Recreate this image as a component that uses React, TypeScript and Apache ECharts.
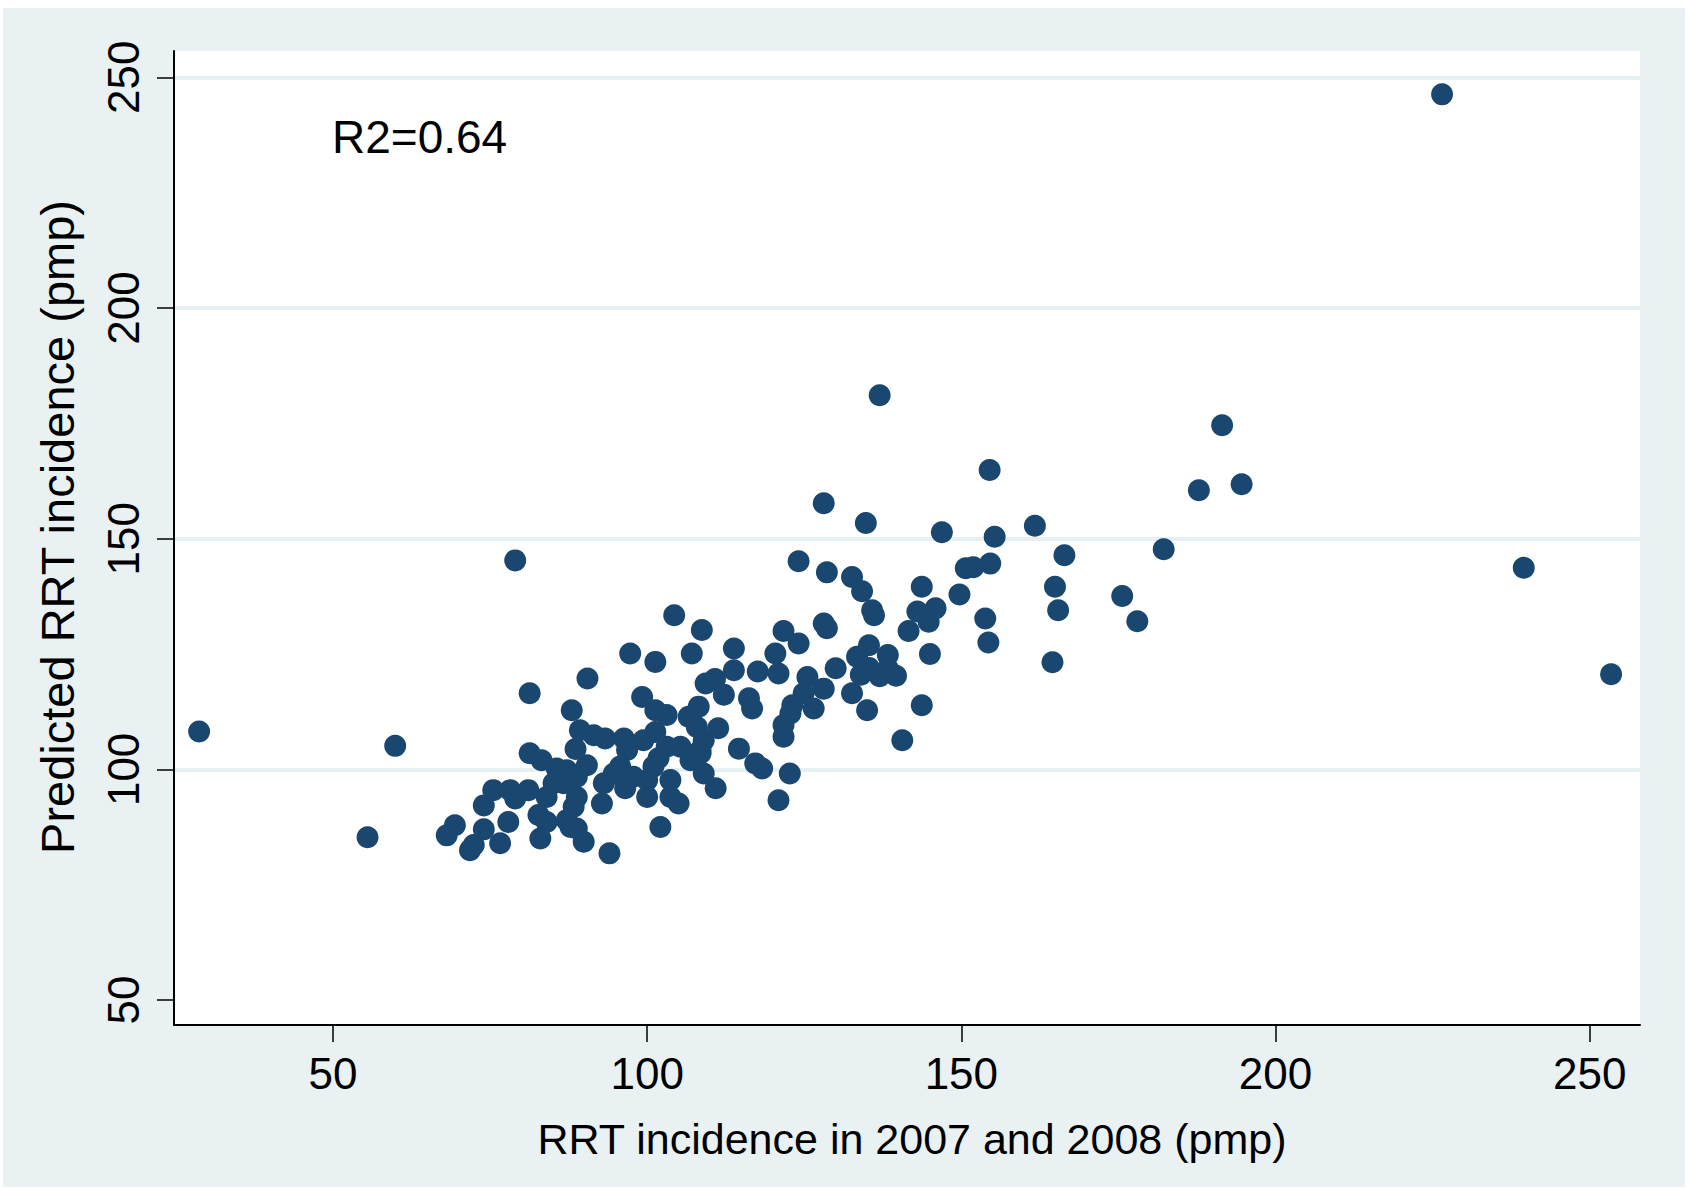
import React, { useEffect, useRef } from "react";
import * as echarts from "echarts";

const FONT = "'Liberation Sans', Arial, Helvetica, sans-serif";

// RRT incidence in 2007 and 2008 (pmp) — x values
const observedIncidence = [
  28.7, 59.9, 55.5, 79.0, 226.5, 239.5, 253.4, 137.0, 191.5, 187.8,
  194.6, 182.2, 175.6, 178.0, 154.5, 161.7, 146.9, 155.3, 166.4, 154.6,
  150.7, 151.9, 143.7, 164.9, 149.7, 145.9, 144.8, 165.4, 153.8, 154.3,
  145.0, 164.5, 143.7, 128.1, 134.8, 124.1, 128.6, 132.6, 134.2, 135.8,
  136.1, 143.0, 141.6, 128.1, 128.6, 121.7, 124.1, 135.3, 133.4, 138.3,
  130.0, 125.5, 117.6, 120.9, 134.0, 135.3, 137.0, 138.3, 139.6, 128.1,
  124.9, 123.1, 122.8, 121.7, 121.7, 126.5, 132.6, 135.0, 140.6, 118.3,
  122.7, 120.9, 104.3, 108.7, 97.3, 101.3, 107.1, 113.8, 113.8, 110.8,
  109.3, 120.4, 112.2, 116.2, 116.7, 99.2, 101.3, 103.1, 106.6, 108.2,
  107.9, 111.3, 109.0, 108.5, 114.6, 117.2, 93.3, 96.3, 99.4, 101.3,
  96.8, 103.1, 105.3, 106.9, 108.5, 101.8, 101.0, 95.7, 94.7, 97.8,
  96.5, 103.7, 100.0, 100.0, 93.1, 92.8, 103.7, 105.0, 109.0, 110.9,
  102.1, 94.0, 90.5, 81.3, 88.0, 89.3, 91.5, 88.6, 81.3, 83.2,
  90.4, 85.6, 87.2, 88.8, 85.1, 86.7, 84.0, 88.8, 88.3, 75.5,
  78.2, 81.1, 74.0, 79.0, 82.7, 84.0, 87.2, 87.8, 88.8, 69.4,
  68.1, 74.0, 77.9, 71.8, 72.4, 76.6, 83.0, 89.9,
];

// Predicted RRT incidence (pmp) — y values
const predictedIncidence = [
  108.2, 105.1, 85.3, 145.3, 246.3, 143.7, 120.6, 181.1, 174.6, 160.5,
  161.8, 147.7, 137.6, 132.1, 164.9, 152.8, 151.4, 150.4, 146.4, 144.6,
  143.6, 143.8, 139.6, 139.6, 137.9, 134.9, 132.0, 134.5, 132.7, 127.5,
  125.0, 123.2, 113.9, 157.7, 153.4, 145.1, 142.7, 141.7, 138.6, 134.5,
  133.4, 134.2, 130.0, 131.6, 130.6, 130.0, 127.3, 126.9, 124.4, 124.8,
  121.9, 120.0, 121.2, 120.8, 120.5, 122.0, 120.2, 121.8, 120.3, 117.5,
  116.5, 113.9, 112.1, 109.6, 107.1, 113.2, 116.5, 112.8, 106.3, 100.2,
  99.1, 93.3, 133.4, 130.2, 125.1, 123.3, 125.1, 126.2, 121.5, 119.6,
  118.6, 125.1, 116.2, 115.4, 113.2, 115.7, 112.8, 111.8, 111.4, 113.6,
  109.2, 108.9, 106.3, 104.2, 104.5, 101.3, 106.7, 106.7, 106.3, 108.1,
  104.2, 104.9, 104.9, 102.0, 103.5, 102.4, 100.6, 100.6, 99.1, 98.4,
  95.9, 97.7, 97.7, 94.0, 97.0, 92.6, 94.0, 92.6, 99.1, 95.9,
  87.5, 81.8, 119.7, 116.5, 112.8, 108.5, 107.4, 104.4, 103.5, 102.0,
  100.9, 100.2, 99.8, 98.4, 97.0, 97.0, 94.0, 94.0, 91.9, 95.5,
  95.5, 95.5, 92.2, 93.7, 90.1, 88.6, 89.0, 87.5, 87.2, 87.9,
  85.7, 87.0, 88.6, 82.5, 83.6, 84.0, 85.0, 84.3,
];

const xTickValues = [50, 100, 150, 200, 250];
const yTickValues = [50, 100, 150, 200, 250];

const X_TITLE = "RRT incidence in 2007 and 2008 (pmp)";
const Y_TITLE = "Predicted RRT incidence (pmp)";
const R2_TEXT = "R2=0.64";

const MARKER = "#1A476F";
const BG = "#E9F1F3";
const GRID_COLOR = "#E6EFF1";

export default function App() {
  const ref = useRef<HTMLDivElement>(null);

  useEffect(() => {
    if (!ref.current) return;
    const chart = echarts.init(ref.current, null, { renderer: "svg" });
    const points = observedIncidence.map((x, i) => [x, predictedIncidence[i]]);
    chart.setOption({
      animation: false,
      textStyle: { fontFamily: FONT },
      grid: {
        left: 174,
        right: 50,
        top: 51,
        bottom: 165,
        show: true,
        backgroundColor: "#ffffff",
        borderWidth: 0,
      },
      xAxis: {
        type: "value",
        min: 24.7,
        max: 258,
        axisLine: { show: true, onZero: false, lineStyle: { color: "#000", width: 2 } },
        axisTick: {
          show: true,
          inside: false,
          length: 17,
          customValues: xTickValues,
          lineStyle: { color: "#000", width: 1.5 },
        },
        axisLabel: {
          customValues: xTickValues,
          fontSize: 44,
          color: "#000",
          margin: 26,
          fontFamily: FONT,
        },
        splitLine: { show: false },
      },
      yAxis: {
        type: "value",
        min: 44.6,
        max: 255.7,
        axisLine: { show: true, onZero: false, lineStyle: { color: "#000", width: 2 } },
        axisTick: {
          show: true,
          inside: false,
          length: 17,
          customValues: yTickValues,
          lineStyle: { color: "#000", width: 1.5 },
        },
        axisLabel: {
          customValues: yTickValues,
          rotate: 90,
          fontSize: 44,
          color: "#000",
          margin: 29,
          fontFamily: FONT,
        },
        splitLine: {
          show: true,
          lineStyle: {
            color: ["rgba(0,0,0,0)", GRID_COLOR, GRID_COLOR, GRID_COLOR, GRID_COLOR],
            width: 4,
          },
        },
      },
      series: [
        {
          type: "scatter",
          data: points,
          symbol: "circle",
          symbolSize: 22,
          itemStyle: { color: MARKER, opacity: 1 },
          z: 3,
        },
      ],
      graphic: [
        {
          type: "text",
          x: 332,
          y: 137,
          z: 10,
          style: {
            text: R2_TEXT,
            fontSize: 46,
            fontFamily: FONT,
            fill: "#000",
            verticalAlign: "middle",
            align: "left",
          },
        },
        {
          type: "text",
          x: 912,
          y: 1139,
          z: 10,
          style: {
            text: X_TITLE,
            fontSize: 43,
            fontFamily: FONT,
            fill: "#000",
            verticalAlign: "middle",
            align: "center",
          },
        },
        {
          type: "text",
          x: 57,
          y: 527,
          rotation: Math.PI / 2,
          z: 10,
          style: {
            text: Y_TITLE,
            fontSize: 47,
            fontFamily: FONT,
            fill: "#000",
            verticalAlign: "middle",
            align: "center",
          },
        },
      ],
    });
    return () => chart.dispose();
  }, []);

  return (
    <div style={{ position: "absolute", left: 0, top: 0, width: 1690, height: 1190, background: "#ffffff" }}>
      <div style={{ position: "absolute", left: 3, top: 8, width: 1682, height: 1179, background: BG }} />
      <div ref={ref} style={{ position: "absolute", left: 0, top: 0, width: 1690, height: 1190 }} />
    </div>
  );
}
